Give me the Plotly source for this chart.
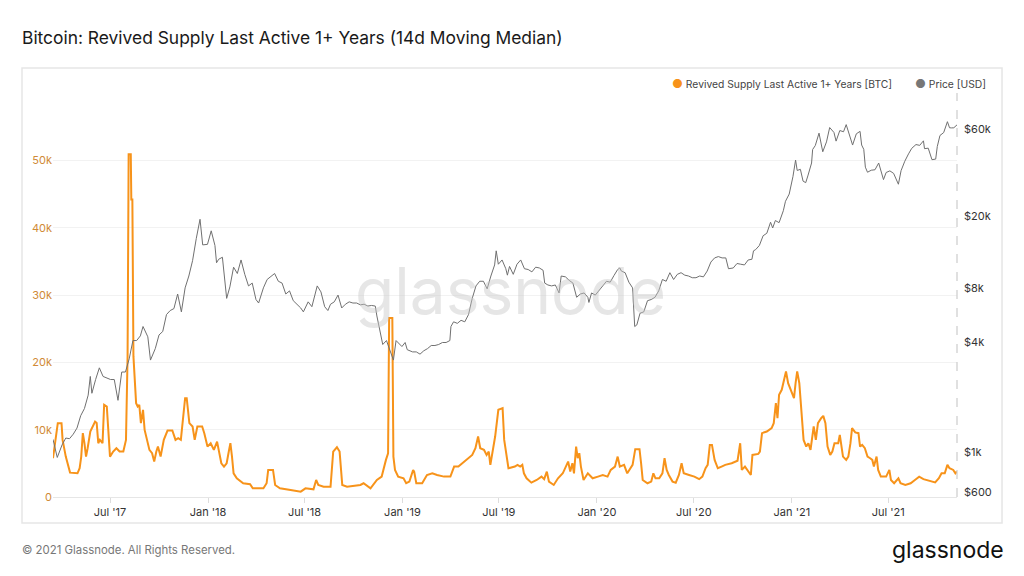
import plotly.graph_objects as go

# Revived supply last active 1+ years [BTC], 14d moving median
rs_dates = [
    "2017-03-16", "2017-03-22", "2017-03-25", "2017-04-01", "2017-04-03", "2017-04-09",
    "2017-04-17", "2017-05-01", "2017-05-05", "2017-05-08", "2017-05-11", "2017-05-14",
    "2017-05-17", "2017-05-20", "2017-05-25", "2017-06-03", "2017-06-06", "2017-06-09",
    "2017-06-12", "2017-06-17", "2017-06-20", "2017-06-25", "2017-06-28", "2017-07-01",
    "2017-07-07", "2017-07-13", "2017-07-19", "2017-07-26", "2017-07-31", "2017-08-03",
    "2017-08-05", "2017-08-09", "2017-08-10", "2017-08-12", "2017-08-14", "2017-08-19",
    "2017-08-22", "2017-08-25", "2017-08-28", "2017-09-01", "2017-09-04", "2017-09-09",
    "2017-09-13", "2017-09-18", "2017-09-22", "2017-09-26", "2017-09-29", "2017-10-04",
    "2017-10-10", "2017-10-17", "2017-10-26", "2017-11-01", "2017-11-06", "2017-11-11",
    "2017-11-16", "2017-11-19", "2017-11-22", "2017-11-24", "2017-11-27", "2017-12-03",
    "2017-12-07", "2017-12-12", "2017-12-21", "2017-12-25", "2017-12-31", "2018-01-06",
    "2018-01-12", "2018-01-18", "2018-01-22", "2018-01-26", "2018-01-31", "2018-02-05",
    "2018-02-09", "2018-02-12", "2018-02-15", "2018-02-18", "2018-02-24", "2018-03-08",
    "2018-03-21", "2018-03-26", "2018-04-15", "2018-04-21", "2018-04-24", "2018-05-03",
    "2018-05-07", "2018-05-16", "2018-06-05", "2018-06-24", "2018-07-03", "2018-07-18",
    "2018-07-23", "2018-07-27", "2018-08-06", "2018-08-19", "2018-08-24", "2018-08-31",
    "2018-09-05", "2018-09-10", "2018-09-19", "2018-10-14", "2018-10-20", "2018-11-02",
    "2018-11-14", "2018-11-23", "2018-12-01", "2018-12-05", "2018-12-07", "2018-12-13",
    "2018-12-15", "2018-12-18", "2018-12-24", "2019-01-03", "2019-01-08", "2019-01-14",
    "2019-01-21", "2019-01-23", "2019-01-27", "2019-02-07", "2019-02-16", "2019-02-26",
    "2019-03-07", "2019-03-20", "2019-04-01", "2019-04-08", "2019-04-16", "2019-04-23",
    "2019-05-02", "2019-05-12", "2019-05-18", "2019-05-23", "2019-05-27", "2019-06-03",
    "2019-06-08", "2019-06-12", "2019-06-15", "2019-06-19", "2019-06-24", "2019-06-30",
    "2019-07-08", "2019-07-11", "2019-07-16", "2019-07-19", "2019-07-31", "2019-08-05",
    "2019-08-10", "2019-08-14", "2019-08-17", "2019-08-22", "2019-08-31", "2019-09-10",
    "2019-09-19", "2019-09-24", "2019-09-29", "2019-10-03", "2019-10-12", "2019-10-20",
    "2019-10-29", "2019-11-03", "2019-11-08", "2019-11-12", "2019-11-16", "2019-11-19",
    "2019-11-23", "2019-11-26", "2019-11-29", "2019-12-02", "2019-12-07", "2019-12-15",
    "2019-12-24", "2020-01-03", "2020-01-12", "2020-01-21", "2020-01-27", "2020-02-04",
    "2020-02-09", "2020-02-13", "2020-02-21", "2020-02-27", "2020-03-08", "2020-03-13",
    "2020-03-21", "2020-03-24", "2020-03-27", "2020-04-05", "2020-04-12", "2020-04-16",
    "2020-04-20", "2020-04-27", "2020-05-03", "2020-05-07", "2020-05-11", "2020-05-15",
    "2020-05-22", "2020-05-28", "2020-06-03", "2020-06-08", "2020-06-12", "2020-06-22",
    "2020-07-02", "2020-07-11", "2020-07-17", "2020-07-23", "2020-07-27", "2020-07-31",
    "2020-08-04", "2020-08-09", "2020-08-15", "2020-08-22", "2020-08-29", "2020-09-10",
    "2020-09-21", "2020-09-26", "2020-09-29", "2020-10-05", "2020-10-11", "2020-10-16",
    "2020-10-19", "2020-10-30", "2020-11-02", "2020-11-06", "2020-11-15", "2020-11-24",
    "2020-11-28", "2020-12-02", "2020-12-05", "2020-12-08", "2020-12-13", "2020-12-17",
    "2020-12-21", "2020-12-25", "2020-12-30", "2021-01-05", "2021-01-08", "2021-01-11",
    "2021-01-15", "2021-01-18", "2021-01-23", "2021-01-28", "2021-02-01", "2021-02-05",
    "2021-02-11", "2021-02-15", "2021-02-19", "2021-02-25", "2021-03-01", "2021-03-05",
    "2021-03-09", "2021-03-14", "2021-03-18", "2021-03-22", "2021-03-29", "2021-04-01",
    "2021-04-04", "2021-04-07", "2021-04-13", "2021-04-17", "2021-04-21", "2021-04-24",
    "2021-04-30", "2021-05-06", "2021-05-09", "2021-05-13", "2021-05-18", "2021-05-23",
    "2021-05-28", "2021-06-01", "2021-06-04", "2021-06-09", "2021-06-12", "2021-06-17",
    "2021-06-27", "2021-07-03", "2021-07-06", "2021-07-12", "2021-07-20", "2021-07-24",
    "2021-08-02", "2021-08-12", "2021-08-20", "2021-08-28", "2021-09-05", "2021-09-14",
    "2021-09-27", "2021-10-04", "2021-10-09", "2021-10-15", "2021-10-20", "2021-10-24",
    "2021-10-31", "2021-11-04", "2021-11-07",
]
rs_values = [
    5760, 9500, 10970, 10970, 8480, 6000,
    3620, 3520, 4270, 6000, 9480, 7990,
    6000, 7240, 9720, 11200, 11000, 7990,
    8480, 8000, 13690, 13440, 8970, 6000,
    6750, 7240, 6750, 6750, 8480, 20880,
    50900, 50900, 44200, 44200, 20880, 13940,
    13440, 13690, 10970, 12950, 9970, 8480,
    7000, 6500, 5260, 6750, 7490, 6000,
    8480, 9870, 9870, 8480, 8730, 8480,
    12950, 14680, 14680, 12950, 10970, 10470,
    8480, 10470, 10470, 9480, 7490, 7990,
    7000, 8230, 6500, 5010, 4520, 5010,
    6750, 7990, 6000, 3520, 2780, 2040,
    1900, 1290, 1290, 2040, 4020, 4020,
    1790, 1290, 1040, 790, 1290, 1140,
    2530, 1790, 1540, 1540, 6750, 7390,
    6750, 1790, 1540, 1790, 2040, 1290,
    2530, 3030, 5510, 6500, 26600, 26600,
    6000, 4020, 3030, 2780, 2040, 2290,
    4020, 3770, 2040, 2040, 3270, 3520,
    3270, 3030, 3030, 4520, 4520, 5010,
    5510, 6250, 7240, 8980, 7240, 7000,
    6250, 6750, 4770, 6750, 8980, 12950,
    13200, 8480, 6000, 4270, 4520, 4770,
    4520, 4770, 3520, 2780, 2130, 2530,
    3030, 2650, 3770, 2290, 1790, 2780,
    3520, 4520, 5260, 3770, 5010, 3520,
    7490, 5760, 6500, 4520, 2530, 3520,
    2780, 3030, 3270, 3030, 4020, 4520,
    6000, 4520, 4770, 3520, 4770, 7100,
    7100, 5010, 2530, 2040, 2290, 3520,
    2780, 2780, 3520, 5760, 4020, 3270,
    2290, 2130, 3270, 5010, 3520, 3270,
    3030, 2650, 3030, 4270, 4770, 7740,
    7740, 5510, 4270, 4520, 4770, 5010,
    5380, 7990, 4020, 4520, 3770, 3270,
    6250, 6400, 6750, 9480, 9720, 10220,
    10970, 13940, 11700, 15180, 15920, 17410,
    18650, 16900, 15920, 14680, 16900, 18650,
    16900, 13440, 8480, 7490, 7990, 7000,
    10470, 8480, 10970, 11700, 12050, 10970,
    7490, 6250, 6750, 7990, 7990, 9230,
    7740, 6000, 5510, 6000, 7990, 10220,
    9600, 9480, 7490, 7740, 7240, 6000,
    5760, 5510, 4520, 6000, 4020, 3030,
    3030, 4020, 2530, 2040, 2780, 2040,
    1790, 2040, 2530, 3030, 2650, 2410,
    2160, 2780, 3520, 3520, 4770, 4270,
    4020, 3520, 3770,
]

# BTC price [USD]
price_dates = [
    "2017-03-16", "2017-03-20", "2017-03-24", "2017-04-02", "2017-04-09", "2017-04-16",
    "2017-04-23", "2017-04-30", "2017-05-07", "2017-05-14", "2017-05-21", "2017-05-25",
    "2017-05-28", "2017-06-04", "2017-06-11", "2017-06-18", "2017-06-25", "2017-07-02",
    "2017-07-09", "2017-07-16", "2017-07-23", "2017-07-30", "2017-08-06", "2017-08-13",
    "2017-08-20", "2017-08-27", "2017-09-01", "2017-09-10", "2017-09-15", "2017-09-24",
    "2017-10-01", "2017-10-08", "2017-10-15", "2017-10-22", "2017-10-29", "2017-11-05",
    "2017-11-12", "2017-11-19", "2017-11-26", "2017-12-03", "2017-12-10", "2017-12-17",
    "2017-12-22", "2017-12-31", "2018-01-07", "2018-01-14", "2018-01-17", "2018-01-21",
    "2018-01-28", "2018-02-05", "2018-02-11", "2018-02-18", "2018-02-25", "2018-03-04",
    "2018-03-11", "2018-03-18", "2018-03-25", "2018-04-01", "2018-04-06", "2018-04-15",
    "2018-04-22", "2018-04-29", "2018-05-06", "2018-05-13", "2018-05-20", "2018-05-27",
    "2018-06-03", "2018-06-10", "2018-06-17", "2018-06-24", "2018-06-29", "2018-07-08",
    "2018-07-15", "2018-07-22", "2018-07-25", "2018-08-01", "2018-08-08", "2018-08-14",
    "2018-08-19", "2018-08-26", "2018-09-02", "2018-09-09", "2018-09-16", "2018-09-23",
    "2018-09-30", "2018-10-07", "2018-10-14", "2018-10-21", "2018-10-28", "2018-11-04",
    "2018-11-11", "2018-11-14", "2018-11-20", "2018-11-25", "2018-12-02", "2018-12-09",
    "2018-12-15", "2018-12-20", "2018-12-24", "2018-12-31", "2019-01-06", "2019-01-10",
    "2019-01-20", "2019-01-27", "2019-02-03", "2019-02-10", "2019-02-17", "2019-02-24",
    "2019-03-03", "2019-03-10", "2019-03-17", "2019-03-24", "2019-03-31", "2019-04-02",
    "2019-04-07", "2019-04-14", "2019-04-21", "2019-04-28", "2019-05-05", "2019-05-12",
    "2019-05-19", "2019-05-26", "2019-06-02", "2019-06-09", "2019-06-16", "2019-06-23",
    "2019-06-26", "2019-06-30", "2019-07-07", "2019-07-14", "2019-07-17", "2019-07-21",
    "2019-07-28", "2019-08-04", "2019-08-11", "2019-08-18", "2019-08-25", "2019-09-01",
    "2019-09-08", "2019-09-15", "2019-09-22", "2019-09-25", "2019-10-01", "2019-10-08",
    "2019-10-15", "2019-10-22", "2019-10-26", "2019-11-03", "2019-11-10", "2019-11-17",
    "2019-11-24", "2019-12-01", "2019-12-08", "2019-12-15", "2019-12-17", "2019-12-22",
    "2019-12-29", "2020-01-05", "2020-01-12", "2020-01-19", "2020-01-26", "2020-02-02",
    "2020-02-09", "2020-02-13", "2020-02-16", "2020-02-23", "2020-03-01", "2020-03-08",
    "2020-03-12", "2020-03-16", "2020-03-22", "2020-03-29", "2020-04-05", "2020-04-12",
    "2020-04-19", "2020-04-26", "2020-05-03", "2020-05-10", "2020-05-17", "2020-05-24",
    "2020-05-31", "2020-06-07", "2020-06-14", "2020-06-21", "2020-06-28", "2020-07-05",
    "2020-07-12", "2020-07-19", "2020-07-26", "2020-08-02", "2020-08-09", "2020-08-16",
    "2020-08-23", "2020-08-30", "2020-09-04", "2020-09-13", "2020-09-20", "2020-09-27",
    "2020-10-04", "2020-10-11", "2020-10-18", "2020-10-21", "2020-10-25", "2020-11-01",
    "2020-11-08", "2020-11-15", "2020-11-22", "2020-11-26", "2020-12-01", "2020-12-08",
    "2020-12-16", "2020-12-20", "2020-12-27", "2021-01-03", "2021-01-08", "2021-01-11",
    "2021-01-17", "2021-01-22", "2021-01-27", "2021-01-31", "2021-02-07", "2021-02-09",
    "2021-02-14", "2021-02-21", "2021-02-28", "2021-03-07", "2021-03-13", "2021-03-21",
    "2021-03-25", "2021-04-01", "2021-04-08", "2021-04-13", "2021-04-18", "2021-04-25",
    "2021-05-02", "2021-05-09", "2021-05-12", "2021-05-16", "2021-05-19", "2021-05-23",
    "2021-05-30", "2021-06-06", "2021-06-13", "2021-06-22", "2021-06-27", "2021-07-04",
    "2021-07-11", "2021-07-20", "2021-07-25", "2021-08-01", "2021-08-08", "2021-08-14",
    "2021-08-22", "2021-08-29", "2021-09-05", "2021-09-07", "2021-09-14", "2021-09-21",
    "2021-09-28", "2021-10-01", "2021-10-06", "2021-10-13", "2021-10-20", "2021-10-24",
    "2021-10-28", "2021-11-01", "2021-11-07",
]
price_values = [
    1170, 1040, 930, 1090, 1190, 1180,
    1250, 1350, 1580, 1730, 2050, 2600,
    2100, 2500, 2900, 2600, 2550, 2500,
    2500, 1920, 2750, 2750, 3250, 4100,
    4100, 4350, 4900, 4300, 3200, 3700,
    4400, 4600, 5700, 6000, 6150, 7400,
    5900, 8000, 9300, 11300, 15000, 19100,
    13800, 13900, 16500, 13700, 11000, 11500,
    11800, 7000, 8100, 10400, 9600, 11400,
    9500, 8200, 8500, 6900, 6600, 8000,
    8900, 9300, 9600, 8700, 8500, 7400,
    7700, 6800, 6500, 6200, 5900, 6700,
    6300, 7400, 8200, 7600, 6300, 6000,
    6500, 6700, 7300, 6200, 6500, 6700,
    6600, 6600, 6450, 6500, 6350, 6400,
    6350, 5600, 4500, 3900, 4100, 3600,
    3200, 4100, 4000, 3800, 4000, 3650,
    3550, 3550, 3450, 3600, 3700, 3850,
    3850, 3900, 4000, 4000, 4100, 4900,
    5200, 5100, 5300, 5200, 5700, 7000,
    8200, 8700, 8700, 7900, 9300, 10700,
    12800, 10800, 11400, 10200, 9400, 10500,
    9500, 10800, 11400, 10200, 10100, 9800,
    10400, 10300, 10000, 8500, 8300, 8200,
    8300, 7500, 9300, 9200, 8800, 8500,
    7100, 7400, 7500, 7100, 6650, 7500,
    7300, 7700, 8200, 8700, 8600, 9350,
    10100, 10300, 9900, 9700, 8600, 8000,
    4900, 5000, 5800, 5900, 6800, 6900,
    7100, 7700, 8900, 8700, 9700, 8900,
    9500, 9700, 9400, 9300, 9100, 9100,
    9300, 9200, 9900, 11100, 11700, 11900,
    11700, 11700, 10200, 10300, 10900, 10800,
    10700, 11400, 11500, 12800, 13000, 13700,
    15500, 16000, 18400, 17100, 18800, 18300,
    21300, 24000, 26300, 32800, 40500, 35500,
    36000, 31000, 30400, 33100, 39000, 46300,
    48700, 57000, 45000, 51000, 61200, 57500,
    51500, 58900, 58000, 63500, 56200, 49000,
    56500, 58300, 49000, 46400, 37000, 34700,
    35600, 35800, 39000, 31600, 34600, 35300,
    34200, 29800, 35400, 39900, 43800, 47000,
    49300, 48800, 51700, 46800, 47100, 40700,
    41000, 48100, 55300, 57400, 65900, 61000,
    60900, 61000, 63300,
]

left_ticks = [0, 10000, 20000, 30000, 40000, 50000, 60000]
left_labels = ["0", "10k", "20k", "30k", "40k", "50k", ""]
right_ticks = [600, 1000, 4000, 8000, 20000, 60000]
right_labels = ["$600", "$1k", "$4k", "$8k", "$20k", "$60k"]

ORANGE = "#f7931a"
GREY = "#707070"
FONT = "Inter"

RS_NAME = "Revived Supply Last Active 1+ Years [BTC]"
PRICE_NAME = "Price [USD]"

fig = go.Figure()

fig.add_trace(go.Scatter(
    x=price_dates, y=price_values, yaxis="y2",
    mode="lines", line=dict(color=GREY, width=1),
    name=PRICE_NAME,
))
fig.add_trace(go.Scatter(
    x=rs_dates, y=rs_values,
    mode="lines", line=dict(color=ORANGE, width=2),
    name=RS_NAME,
))

fig.update_layout(
    width=1024, height=576,
    margin=dict(l=53, r=67, t=93, b=79),
    paper_bgcolor="white", plot_bgcolor="white",
    font=dict(family=FONT, size=11, color="#333333"),
    showlegend=False,
    title=dict(
        text="Bitcoin: Revived Supply Last Active 1+ Years (14d Moving Median)",
        x=22 / 1024, xref="container", xanchor="left",
        y=1 - 38 / 576, yref="container", yanchor="middle",
        font=dict(family=FONT, size=17.4, color="#1a1a1a"),
    ),
    xaxis=dict(
        type="date", range=["2017-03-16", "2021-11-07"],
        dtick="M6", tick0="2017-01-01", tickformat="%b '%y",
        ticks="outside", ticklen=5, tickcolor="#dddddd",
        showline=True, linecolor="#e6e6e6", showgrid=False, zeroline=False,
        tickfont=dict(size=11, color="#333333"),
    ),
    yaxis=dict(
        range=[0, 60000], tickvals=left_ticks, ticktext=left_labels,
        showgrid=True, gridcolor="#f2f2f2", zeroline=False, showline=False,
        ticks="", tickfont=dict(size=11, color="#d08a37"),
    ),
    yaxis2=dict(
        type="log", overlaying="y", side="right",
        range=[2.7506, 4.977], tickvals=right_ticks, ticktext=right_labels,
        showgrid=False, zeroline=False, showline=False, ticks="",
        tickfont=dict(size=11, color="#333333"), ticklabelstandoff=6,
    ),
    hovermode="x unified",
)

# legend drawn as dot + text, like the original
fig.add_annotation(
    text=f"<span style='color:{ORANGE};font-size:12px'>●</span> {RS_NAME}",
    xref="paper", yref="paper", x=0.9303, y=1.0223,
    xanchor="right", yanchor="middle", showarrow=False,
    font=dict(family=FONT, size=10.3, color="#444444"))
fig.add_annotation(
    text=f"<span style='color:#777777;font-size:12px'>●</span> {PRICE_NAME}",
    xref="paper", yref="paper", x=1.0343, y=1.0223,
    xanchor="right", yanchor="middle", showarrow=False,
    font=dict(family=FONT, size=10.3, color="#444444"))

# chart frame and the dashed "latest" marker on the right edge
fig.add_shape(type="rect", xref="paper", yref="paper",
              x0=-0.0343, x1=1.0498, y0=-0.0644, y1=1.0619,
              line=dict(color="#e6e6e6", width=1.5), layer="below")
fig.add_shape(type="line", xref="paper", yref="paper",
              x0=1, x1=1, y0=0, y1=1,
              line=dict(color="#cccccc", width=1.2, dash="dash"))

# watermark + footer
fig.add_annotation(text="glassnode", xref="paper", yref="paper",
                   x=0.5066, y=0.512, showarrow=False,
                   font=dict(family=FONT, size=64, color="rgba(200,200,200,0.45)"))
fig.add_annotation(text="© 2021 Glassnode. All Rights Reserved.",
                   xref="paper", yref="paper", x=-0.0365, y=-0.13,
                   xanchor="left", yanchor="middle", showarrow=False,
                   font=dict(family=FONT, size=11.4, color="#777777"))
fig.add_annotation(text="glassnode", xref="paper", yref="paper",
                   x=1.0542, y=-0.13, xanchor="right", yanchor="middle",
                   showarrow=False,
                   font=dict(family=FONT, size=23, color="#111111"))

# the page body has a default 8px margin; drop it so the figure sits at 0,0
fig.write_html("out.html", config={"displayModeBar": False},
               post_script="document.body.style.margin = '0';")
